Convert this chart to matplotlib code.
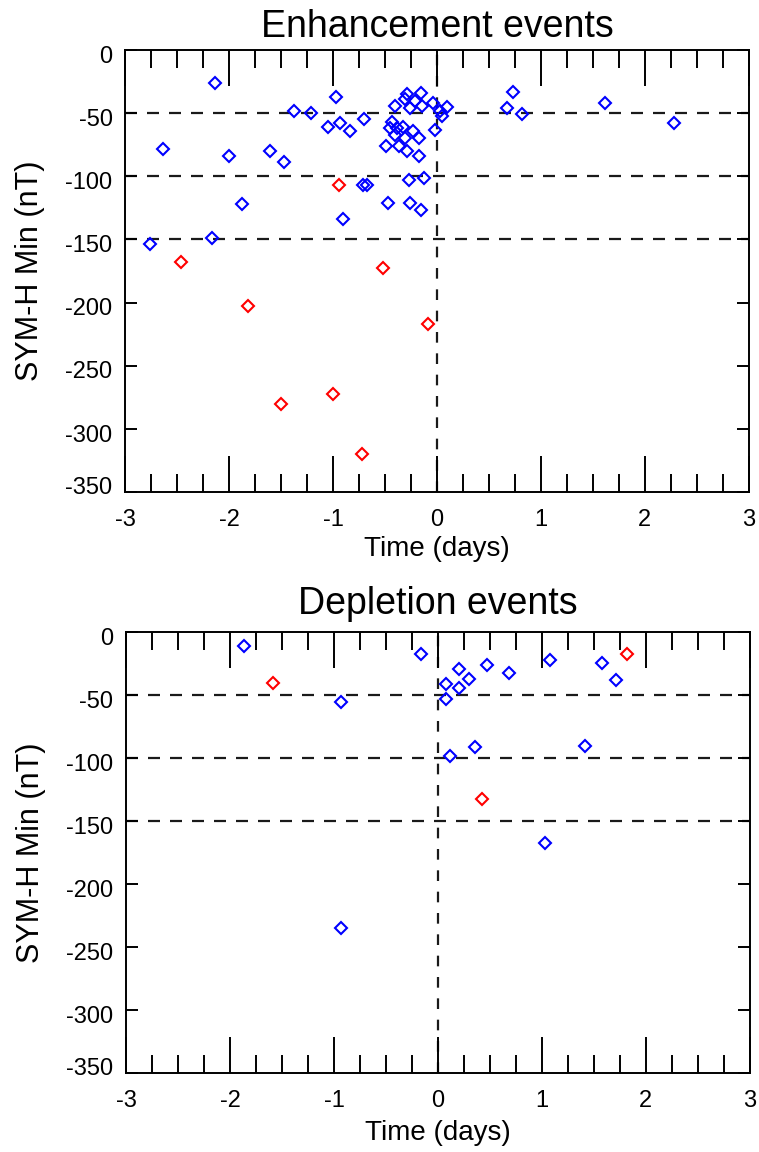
import matplotlib.pyplot as plt
from matplotlib.ticker import MultipleLocator
from matplotlib.transforms import ScaledTranslation

plt.rcParams['font.family'] = ['Liberation Sans', 'DejaVu Sans']
plt.rcParams['axes.unicode_minus'] = False

# Enhancement events (time in days, SYM-H min in nT)
enh_blue_t = [-2.76, -2.63, -2.16, -2.13, -2.00, -1.875, -1.61, -1.47, -1.375, -1.21,
              -1.05, -0.97, -0.935, -0.905, -0.84, -0.715, -0.67, -0.70, -0.49, -0.468,
              -0.45, -0.436, -0.40, -0.404, -0.388, -0.362, -0.33, -0.31, -0.308, -0.29,
              -0.285, -0.272, -0.263, -0.26, -0.228, -0.215, -0.17, -0.17, -0.157, -0.15,
              -0.14, -0.128, -0.04, -0.019, 0.03, 0.045, 0.10, 0.676, 0.727, 0.814,
              1.62, 2.276]
enh_blue_v = [-154, -78, -149, -26, -84, -122, -80, -89, -48, -50,
              -61, -37, -58, -134, -64, -107, -107, -55, -76, -121,
              -62, -57, -67, -44, -62, -76, -61, -39, -70, -35,
              -80, -103, -121, -46, -64, -40, -70, -84, -127, -34,
              -44, -101, -42, -63, -48, -52, -45, -46, -33, -51,
              -42, -58]
enh_red_t = [-2.46, -1.82, -1.50, -1.00, -0.94, -0.72, -0.516, -0.083]
enh_red_v = [-168, -203, -280, -272, -107, -320, -173, -217]

# Depletion events
dep_blue_t = [-1.862, -0.93, -0.93, -0.166, 0.08, 0.08, 0.114, 0.20, 0.20, 0.295,
              0.361, 0.471, 0.68, 1.029, 1.08, 1.417, 1.576, 1.71]
dep_blue_v = [-11, -55, -235, -17, -41, -53, -98, -29, -44, -37,
              -91, -26, -32, -167, -22, -90, -24, -38]
dep_red_t = [-1.589, 0.427, 1.817]
dep_red_v = [-40, -132, -17]

fig = plt.figure(figsize=(7.59, 11.52), dpi=100)
ax_top = fig.add_axes([0.1647, 0.5729, 0.822, 0.3837])
ax_bot = fig.add_axes([0.1660, 0.0686, 0.822, 0.3824])

panels = [
    (ax_top, "Enhancement events", enh_blue_t, enh_blue_v, enh_red_t, enh_red_v, 9.5, -0.099),
    (ax_bot, "Depletion events", dep_blue_t, dep_blue_v, dep_red_t, dep_red_v, 13.5, -0.106),
]

# IDL-style labels sit a little below their ticks, the bottom one a bit above
label_shift = ScaledTranslation(0, -3 / 72, fig.dpi_scale_trans)
bottom_shift = ScaledTranslation(0, 5 / 72, fig.dpi_scale_trans)

for ax, title, bt, bv, rt, rv, tpad, xlab_y in panels:
    # reference lines
    for level in [-50, -100, -150]:
        ax.axhline(level, color='#1a1a1a', lw=1.6, ls=(0, (5.4, 4.5)), zorder=1)
    ax.axvline(0, color='#1a1a1a', lw=1.6, ls=(0, (4.8, 4.8)), zorder=1)

    # events
    ax.plot(bt, bv, 'D', ms=6.5, mfc='none', mec='#0000ff', mew=1.5, zorder=3)
    ax.plot(rt, rv, 'D', ms=6.5, mfc='none', mec='#ff0000', mew=1.5, zorder=3)

    ax.set_xlim(-3, 3)
    ax.set_ylim(-350, 0)
    ax.xaxis.set_major_locator(MultipleLocator(1))
    ax.xaxis.set_minor_locator(MultipleLocator(0.25))
    ax.set_yticks(range(-350, 1, 50))

    ax.tick_params(axis='x', which='major', direction='in', top=True, bottom=True,
                   length=26, width=1.4, labelsize=17, pad=12)
    ax.tick_params(axis='x', which='minor', direction='in', top=True, bottom=True,
                   length=13, width=1.4)
    ax.tick_params(axis='y', which='major', direction='in', left=True, right=True,
                   length=8.6, width=1.4, labelsize=17, pad=9)
    for sp in ax.spines.values():
        sp.set_linewidth(1.4)
    ylabels = ax.get_yticklabels()
    for lab in ylabels[1:]:
        lab.set_transform(lab.get_transform() + label_shift)
    ylabels[0].set_transform(ylabels[0].get_transform() + bottom_shift)

    ax.set_title(title, fontsize=27, pad=tpad)
    ax.set_xlabel("Time (days)", fontsize=20)
    ax.set_ylabel("SYM-H Min (nT)", fontsize=22)
    ax.xaxis.set_label_coords(0.5, xlab_y)
    ax.yaxis.set_label_coords(-0.128, 0.5)

plt.savefig("out.png", dpi=100)
plt.close()
